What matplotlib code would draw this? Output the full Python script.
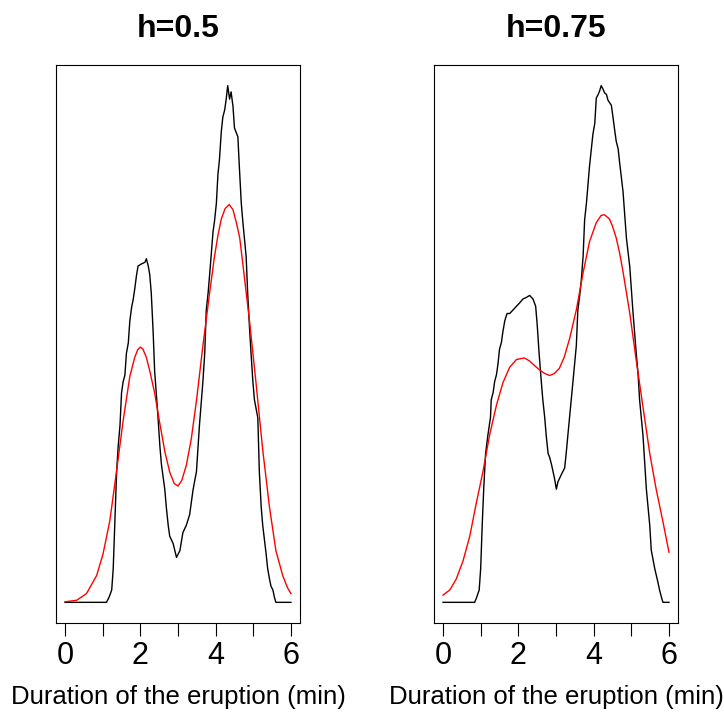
import numpy as np
import matplotlib.pyplot as plt

plt.rcParams['font.family'] = ['Liberation Sans', 'DejaVu Sans']

titles = ['h=0.5', 'h=0.75']
xlabel = 'Duration of the eruption (min)'

# h = 0.5 : naive (moving window) estimate, black
x1_naive = [0, 1.10, 1.17, 1.24, 1.28, 1.32, 1.37, 1.41, 1.46, 1.50, 1.54, 1.59, 1.63, 1.68,
            1.72, 1.77, 1.81, 1.85, 1.90, 1.94, 2.03, 2.12, 2.16, 2.21, 2.25, 2.29, 2.34, 2.38,
            2.43, 2.47, 2.52, 2.56, 2.65, 2.69, 2.74, 2.78, 2.87, 2.96, 3.05, 3.13, 3.22, 3.31,
            3.40, 3.49, 3.57, 3.66, 3.71, 3.75, 3.80, 3.84, 3.93, 3.97, 4.02, 4.06, 4.10, 4.15,
            4.19, 4.24, 4.28, 4.32, 4.37, 4.41, 4.46, 4.50, 4.59, 4.63, 4.68, 4.72, 4.81, 4.85,
            4.90, 4.94, 4.99, 5.03, 5.12, 5.16, 5.21, 5.25, 5.34, 5.38, 5.43, 5.47, 5.52, 5.56,
            5.60, 6.00]
y1_naive = [0, 0, 0.010, 0.024, 0.066, 0.149, 0.253, 0.301, 0.343, 0.405, 0.426, 0.440, 0.482, 0.502,
            0.544, 0.572, 0.586, 0.606, 0.634, 0.651, 0.655, 0.658, 0.665, 0.651, 0.634, 0.599, 0.523, 0.447,
            0.398, 0.357, 0.301, 0.267, 0.218, 0.184, 0.149, 0.128, 0.114, 0.087, 0.100, 0.135, 0.149, 0.170,
            0.218, 0.253, 0.343, 0.426, 0.482, 0.565, 0.599, 0.634, 0.717, 0.738, 0.773, 0.828, 0.856, 0.911,
            0.939, 0.953, 0.974, 1.000, 0.974, 0.988, 0.960, 0.918, 0.901, 0.842, 0.773, 0.738, 0.669, 0.599,
            0.530, 0.482, 0.426, 0.392, 0.357, 0.253, 0.184, 0.149, 0.094, 0.066, 0.045, 0.031, 0.024, 0.010,
            0, 0]

# h = 0.5 : gaussian kernel estimate, red
x1_kern = [0, 0.31, 0.57, 0.84, 1.01, 1.19, 1.37, 1.54, 1.72, 1.85, 1.93, 2.00, 2.07, 2.16,
           2.25, 2.38, 2.52, 2.65, 2.78, 2.90, 3.00, 3.10, 3.22, 3.35, 3.49, 3.66, 3.84, 3.96,
           4.06, 4.15, 4.25, 4.36, 4.46, 4.55, 4.64, 4.73, 4.90, 5.07, 5.25, 5.43, 5.60, 5.78,
           5.91, 6.00]
y1_kern = [0.001, 0.004, 0.017, 0.052, 0.094, 0.158, 0.255, 0.350, 0.437, 0.474, 0.489, 0.494, 0.490, 0.474,
           0.448, 0.405, 0.345, 0.292, 0.252, 0.230, 0.225, 0.236, 0.265, 0.315, 0.390, 0.496, 0.599, 0.665,
           0.710, 0.742, 0.762, 0.770, 0.760, 0.735, 0.705, 0.650, 0.544, 0.426, 0.295, 0.184, 0.100, 0.052,
           0.028, 0.017]

# h = 0.75 : naive estimate, black
x2_naive = [0, 0.84, 0.88, 0.96, 1.00, 1.04, 1.08, 1.13, 1.19, 1.26, 1.28, 1.33, 1.37, 1.42,
            1.46, 1.50, 1.55, 1.59, 1.64, 1.70, 1.77, 1.86, 1.95, 2.04, 2.12, 2.21, 2.30, 2.39,
            2.46, 2.50, 2.55, 2.61, 2.65, 2.70, 2.74, 2.79, 2.83, 2.88, 2.96, 3.01, 3.05, 3.14,
            3.23, 3.27, 3.36, 3.45, 3.54, 3.58, 3.63, 3.67, 3.72, 3.76, 3.81, 3.89, 3.98, 4.03,
            4.07, 4.12, 4.16, 4.20, 4.25, 4.29, 4.34, 4.38, 4.47, 4.51, 4.56, 4.60, 4.65, 4.69,
            4.78, 4.87, 4.96, 5.04, 5.13, 5.18, 5.22, 5.31, 5.40, 5.49, 5.53, 5.62, 5.71, 5.75,
            5.80, 5.84, 6.00]
y2_naive = [0, 0, 0.007, 0.024, 0.066, 0.149, 0.219, 0.288, 0.323, 0.358, 0.392, 0.406, 0.427, 0.441,
            0.462, 0.490, 0.503, 0.524, 0.545, 0.559, 0.559, 0.566, 0.573, 0.580, 0.587, 0.590, 0.594, 0.587,
            0.573, 0.538, 0.483, 0.427, 0.392, 0.358, 0.323, 0.288, 0.281, 0.267, 0.240, 0.219, 0.233, 0.247,
            0.260, 0.288, 0.358, 0.427, 0.497, 0.566, 0.594, 0.622, 0.670, 0.740, 0.774, 0.844, 0.906, 0.927,
            0.976, 0.983, 0.990, 1.000, 0.993, 0.986, 0.983, 0.972, 0.962, 0.941, 0.913, 0.892, 0.878, 0.851,
            0.795, 0.705, 0.649, 0.566, 0.483, 0.441, 0.392, 0.323, 0.219, 0.149, 0.101, 0.066, 0.038, 0.024,
            0.010, 0, 0]

# h = 0.75 : gaussian kernel estimate, red
x2_kern = [0, 0.18, 0.35, 0.53, 0.71, 0.88, 1.06, 1.24, 1.42, 1.59, 1.77, 1.95, 2.16, 2.30,
           2.45, 2.56, 2.70, 2.83, 2.96, 3.09, 3.22, 3.36, 3.54, 3.72, 3.89, 4.07, 4.20, 4.29,
           4.42, 4.50, 4.60, 4.69, 4.78, 4.96, 5.13, 5.31, 5.49, 5.66, 5.84, 6.00]
y2_kern = [0.014, 0.024, 0.045, 0.080, 0.128, 0.191, 0.253, 0.325, 0.382, 0.425, 0.455, 0.470, 0.473, 0.467,
           0.457, 0.450, 0.443, 0.439, 0.443, 0.453, 0.475, 0.510, 0.566, 0.638, 0.698, 0.735, 0.749, 0.750,
           0.742, 0.728, 0.705, 0.676, 0.640, 0.559, 0.469, 0.378, 0.288, 0.219, 0.156, 0.097]

fig = plt.figure(figsize=(7.24, 7.13), dpi=100)
W, H = 724, 713
panels = [(56, x1_naive, y1_naive, x1_kern, y1_kern),
          (434, x2_naive, y2_naive, x2_kern, y2_kern)]

for i, (left, xn, yn, xk, yk) in enumerate(panels):
    ax = fig.add_axes([left / W, 90 / H, 244 / W, 558 / H])
    ax.plot(xn, yn, color='black', lw=1.0)
    ax.plot(xk, yk, color='red', lw=1.0)
    ax.set_xlim(-0.24, 6.24)
    ax.set_ylim(-0.04, 1.04)
    ax.set_yticks([])
    ax.set_xticks(np.arange(0, 7, 1))
    ax.set_xticklabels(['0', '', '2', '', '4', '', '6'], fontsize=22)
    ax.tick_params(axis='x', direction='out', length=9, width=0.8, pad=4)
    for s in ax.spines.values():
        s.set_linewidth(0.8)
    ax.set_title(titles[i], fontsize=23, fontweight='bold', pad=20)
    ax.set_xlabel(xlabel, fontsize=18.5, labelpad=10)

plt.savefig('out.png', dpi=100)
